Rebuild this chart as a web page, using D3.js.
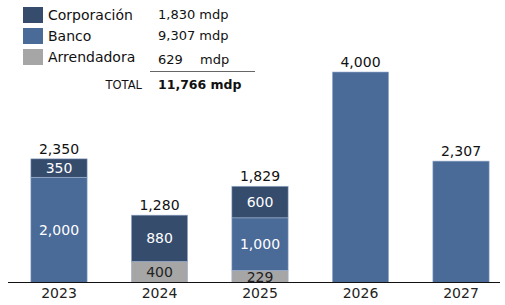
<!DOCTYPE html>
<html><head><meta charset="utf-8">
<script src="https://cdn.jsdelivr.net/npm/d3@7"></script>
<style>body{margin:0;background:#fff;} svg{display:block;font-family:"DejaVu Sans",Verdana,sans-serif;}</style>
</head><body>
<svg id="c" width="505" height="305"></svg>
<script>
const years = ["2023","2024","2025","2026","2027"];
const arrendadora = [0, 400, 229, 0, 0];
const banco = [2000, 0, 1000, 4000, 2307];
const corporacion = [350, 880, 600, 0, 0];
const totals = [2350, 1280, 1829, 4000, 2307];
const seriesNames = ["Arrendadora","Banco","Corporación"];
const legendNames = ["Corporación","Banco","Arrendadora"];
const legendValues = ["1,830","9,307","629"];
const totalLabel = "11,766 mdp";

const colors = {"Corporación":"#364c6d","Banco":"#4a6a98","Arrendadora":"#a6a6a6"};
const textColors = {"Corporación":"#fff","Banco":"#fff","Arrendadora":"#222"};

const svg = d3.select("#c");
const base = 282.5;
const x = d3.scaleBand().domain(years).range([8.75, 511.25]).paddingInner(0.44).paddingOuter(0.22);
const y = d3.scaleLinear().domain([0, 4000]).range([base, 72]);

const rows = years.map((yr,i)=>({year:yr, "Arrendadora":arrendadora[i], "Banco":banco[i], "Corporación":corporacion[i]}));
const stack = d3.stack().keys(seriesNames)(rows);

const g = svg.append("g");
stack.forEach(layer=>{
  const key = layer.key;
  layer.forEach((d,i)=>{
    if (d[1]-d[0] <= 0) return;
    g.append("rect")
      .attr("x", x(years[i]))
      .attr("width", x.bandwidth())
      .attr("y", y(d[1]))
      .attr("height", y(d[0]) - y(d[1]))
      .attr("fill", colors[key])
      .attr("stroke", "#9fb2cf").attr("stroke-width", 0.6);
    const single = (d[1]-d[0]) === totals[i];
    if (!single) {
      g.append("text")
        .attr("x", x(years[i]) + x.bandwidth()/2)
        .attr("y", (y(d[0])+y(d[1]))/2)
        .attr("dy", "0.36em")
        .attr("text-anchor","middle")
        .attr("font-size", 14)
        .attr("fill", textColors[key])
        .text(d3.format(",")(d[1]-d[0]));
    }
  });
});

// totals
years.forEach((yr,i)=>{
  svg.append("text").attr("x", x(yr)+x.bandwidth()/2).attr("y", y(totals[i]) - 5)
    .attr("text-anchor","middle").attr("font-size",14).attr("fill","#111")
    .text(d3.format(",")(totals[i]));
});

// axis
const ax = svg.append("g").attr("transform",`translate(0,${base})`)
  .call(d3.axisBottom(x).tickSize(0).tickPadding(6));
ax.select(".domain").remove();
ax.selectAll("text").attr("font-size",14).attr("fill","#222").attr("font-family","DejaVu Sans, Verdana, sans-serif");
svg.append("line").attr("x1",8).attr("x2",500).attr("y1",base).attr("y2",base).attr("stroke","#111").attr("stroke-width",1.2);

// legend
const lg = svg.append("g");
legendNames.forEach((n,i)=>{
  const yy = 7 + i*21;
  lg.append("rect").attr("x",23).attr("y",yy).attr("width",20).attr("height",16).attr("fill",colors[n]);
  lg.append("text").attr("x",48).attr("y",yy+13).attr("font-size",14).attr("fill","#111").text(n);
  if (i < 2) {
    lg.append("text").attr("x",158).attr("y",yy+12).attr("font-size",13).attr("fill","#111").text(legendValues[i]+" mdp");
  } else {
    lg.append("text").attr("x",158).attr("y",yy+15).attr("font-size",13).attr("fill","#111").text(legendValues[i]);
    lg.append("text").attr("x",200).attr("y",yy+15).attr("font-size",13).attr("fill","#111").text("mdp");
  }
});
lg.append("line").attr("x1",150).attr("x2",255).attr("y1",71.5).attr("y2",71.5).attr("stroke","#666").attr("stroke-width",1);
lg.append("text").attr("x",142).attr("y",89).attr("text-anchor","end").attr("font-size",11.5).attr("fill","#111").text("TOTAL");
lg.append("text").attr("x",158).attr("y",89).attr("font-size",12.5).attr("font-weight","bold").attr("fill","#111").text(totalLabel);
</script>
</body></html>
